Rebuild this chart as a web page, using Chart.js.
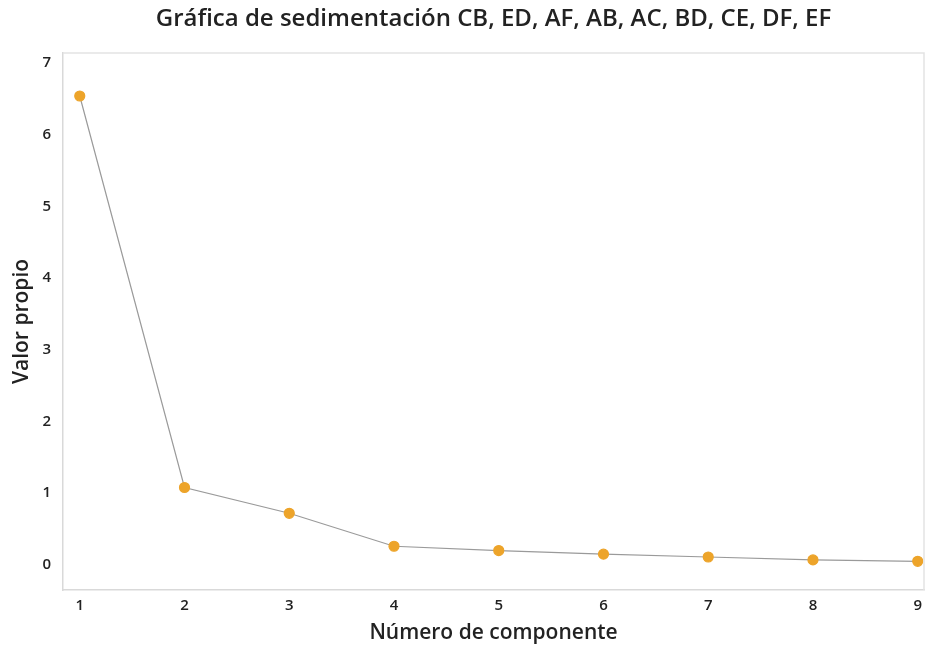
<!DOCTYPE html>
<html>
<head>
<meta charset="utf-8">
<script src="https://cdn.jsdelivr.net/npm/chart.js@4.4.0/dist/chart.umd.min.js"></script>
<style>
  html, body { margin: 0; padding: 0; background: #fff; }
  #wrap { width: 931px; height: 647px; }
</style>
</head>
<body>
<div id="wrap"><canvas id="chart"></canvas></div>
<script>
const componentes = [1, 2, 3, 4, 5, 6, 7, 8, 9];
const valoresPropios = [6.54, 1.08, 0.72, 0.26, 0.20, 0.15, 0.11, 0.07, 0.05];
const yTicks = [0, 1, 2, 3, 4, 5, 6, 7];
const titulo = 'Gráfica de sedimentación CB, ED, AF, AB, AC, BD, CE, DF, EF';

const fontFam = '"Open Sans", "Noto Sans", sans-serif';

const puntos = componentes.map(function (c, i) {
    return { x: c, y: valoresPropios[i] };
});

new Chart(document.getElementById('chart'), {
    type: 'scatter',
    data: {
        datasets: [{
            data: puntos,
            showLine: true,
            borderColor: '#9a9a9a',
            borderWidth: 1.2,
            pointBackgroundColor: '#eda42a',
            pointBorderColor: '#eda42a',
            pointRadius: 5,
            pointStyle: 'circle'
        }]
    },
    options: {
        responsive: true,
        maintainAspectRatio: false,
        animation: false,
        layout: { padding: { top: 53, right: 7, bottom: 0, left: 0 } },
        plugins: {
            legend: { display: false },
            tooltip: { enabled: false },
            title: { display: false }
        },
        scales: {
            x: {
                type: 'linear',
                min: 0.84,
                max: 9.06,
                afterBuildTicks: function (axis) {
                    axis.ticks = componentes.map(v => ({ value: v }));
                },
                grid: { display: false, drawTicks: false },
                border: { display: true, color: '#d9d9d9', width: 1.5 },
                ticks: { color: '#222', font: { family: fontFam, size: 15, weight: '600' }, padding: 7 },
                title: {
                    display: true,
                    text: 'Número de componente',
                    color: '#222',
                    font: { family: fontFam, size: 21, weight: '600' },
                    padding: { top: 0, bottom: 1 }
                },
                afterFit: function (axis) { axis.height = 57; }
            },
            y: {
                min: -0.35,
                max: 7.14,
                afterBuildTicks: function (axis) {
                    axis.ticks = yTicks.map(v => ({ value: v }));
                },
                grid: { display: false, drawTicks: false },
                border: { display: true, color: '#d9d9d9', width: 1.5 },
                ticks: { color: '#222', font: { family: fontFam, size: 15, weight: '600' }, padding: 12 },
                title: {
                    display: true,
                    text: 'Valor propio',
                    color: '#222',
                    font: { family: fontFam, size: 21, weight: '600' },
                    padding: { top: 9, bottom: 4 }
                },
                afterFit: function (axis) { axis.width = 63; }
            }
        }
    },
    plugins: [{
        id: 'marcoYTitulo',
        afterDraw: function (chart) {
            const a = chart.chartArea;
            const ctx = chart.ctx;
            ctx.save();
            ctx.strokeStyle = '#e3e3e3';
            ctx.lineWidth = 1.5;
            ctx.beginPath();
            ctx.moveTo(a.left, a.top);
            ctx.lineTo(a.right, a.top);
            ctx.lineTo(a.right, a.bottom);
            ctx.stroke();

            // titulo centrado sobre el area del grafico
            ctx.fillStyle = '#222';
            ctx.font = '600 24px ' + fontFam;
            ctx.textAlign = 'center';
            ctx.textBaseline = 'middle';
            ctx.fillText(titulo, (a.left + a.right) / 2, 19);
            ctx.restore();
        }
    }]
});
</script>
</body>
</html>
